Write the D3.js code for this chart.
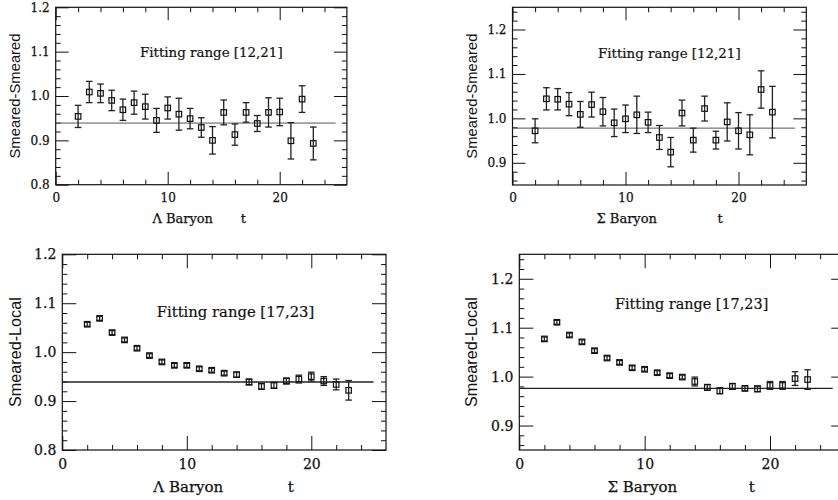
<!DOCTYPE html>
<html lang="en">
  <head>
    <meta charset="UTF-8" />
    <title>Effective mass ratios</title>
    <script src="https://d3js.org/d3.v7.min.js"></script>
    <style>
      body { margin: 0; background: #fff; }
    </style>
  </head>

  <body>
    <svg width="838" height="500"></svg>
    <script>
      // time slices
      const tValues = d3.range(2, 24);

      // Lambda, smeared-smeared
      const lambdaSS = [0.954, 1.009, 1.006, 0.990, 0.969, 0.985, 0.976, 0.945, 0.973, 0.959, 0.949,
                        0.929, 0.900, 0.963, 0.913, 0.963, 0.938, 0.963, 0.964, 0.899, 0.993, 0.893];
      const lambdaSSErr = [0.025, 0.024, 0.021, 0.023, 0.024, 0.026, 0.028, 0.027, 0.025, 0.036, 0.023,
                           0.022, 0.031, 0.028, 0.024, 0.022, 0.018, 0.033, 0.031, 0.041, 0.030, 0.037];
      // Sigma, smeared-smeared
      const sigmaSS = [0.972, 1.044, 1.043, 1.032, 1.009, 1.031, 1.015, 0.990, 0.999, 1.008, 0.991,
                       0.957, 0.924, 1.012, 0.951, 1.022, 0.951, 0.992, 0.972, 0.963, 1.065, 1.014];
      const sigmaSSErr = [0.027, 0.025, 0.024, 0.026, 0.029, 0.028, 0.032, 0.031, 0.031, 0.042, 0.023,
                          0.027, 0.033, 0.029, 0.027, 0.028, 0.020, 0.043, 0.041, 0.045, 0.042, 0.058];
      // Lambda, smeared-local
      const lambdaSL = [1.057, 1.069, 1.040, 1.025, 1.008, 0.993, 0.980, 0.973, 0.973, 0.966, 0.963,
                        0.957, 0.954, 0.939, 0.930, 0.932, 0.941, 0.945, 0.950, 0.941, 0.934, 0.922];
      const lambdaSLErr = [0.004, 0.004, 0.004, 0.004, 0.004, 0.004, 0.004, 0.004, 0.004, 0.004, 0.004,
                           0.004, 0.005, 0.006, 0.006, 0.006, 0.006, 0.008, 0.009, 0.009, 0.011, 0.020];
      // Sigma, smeared-local
      const sigmaSL = [1.077, 1.111, 1.085, 1.071, 1.053, 1.038, 1.029, 1.018, 1.015, 1.008, 1.002,
                       0.999, 0.990, 0.978, 0.971, 0.980, 0.976, 0.975, 0.982, 0.982, 0.996, 0.994];
      const sigmaSLErr = [0.004, 0.004, 0.004, 0.004, 0.004, 0.004, 0.004, 0.004, 0.004, 0.004, 0.004,
                          0.004, 0.009, 0.006, 0.006, 0.006, 0.005, 0.006, 0.008, 0.008, 0.014, 0.020];

      // fitted plateaus
      const fitValues = [0.939, 0.978, 0.939, 0.976];
      const fitLabels = ["Fitting range [12,21]", "Fitting range [12,21]",
                         "Fitting range [17,23]", "Fitting range [17,23]"];
      const yTitles = ["Smeared-Smeared", "Smeared-Smeared", "Smeared-Local", "Smeared-Local"];
      const xTitles = ["\u039b Baryon", "\u03a3 Baryon", "\u039b Baryon", "\u03a3 Baryon"];

      const panels = [
        { vals: lambdaSS, errs: lambdaSSErr, x0: 55.7, x1: 346.9, y0: 7.3, y1: 184.7, yd: [0.8, 1.2],
          fs: 12, ts: 14.8, ls: 13.4, lx: 140, ly: 52, ytx: 15, bx: 182.7, tx: 243.3, xly: 202.5, xty: 218.5 },
        { vals: sigmaSS, errs: sigmaSSErr, x0: 512.5, x1: 806.3, y0: 7.3, y1: 185, yd: [0.85, 1.25],
          fs: 12, ts: 14.8, ls: 13.4, lx: 598, ly: 53, ytx: 471.7, bx: 626.7, tx: 720, xly: 202.5, xty: 218.5 },
        { vals: lambdaSL, errs: lambdaSLErr, x0: 62.3, x1: 386, y0: 254.3, y1: 450, yd: [0.8, 1.2],
          fs: 14, ts: 16.2, ls: 14.8, lx: 156.7, ly: 312, ytx: 15, bx: 188.3, tx: 290.7, xly: 469.5, xty: 487 },
        { vals: sigmaSL, errs: sigmaSLErr, x0: 519.3, x1: 845.2, y0: 254.3, y1: 450, yd: [0.85, 1.25],
          fs: 14, ts: 16.2, ls: 14.4, lx: 615, ly: 303.5, ytx: 471.7, bx: 642.3, tx: 751.7, xly: 469.5, xty: 487 }
      ];

      const svg = d3.select("svg");
      const serif = "'DejaVu Serif', serif";
      const sans = "'Liberation Sans', Arial, sans-serif";
      const ink = "#111";

      panels.forEach((p, i) => {
        const w = p.x1 - p.x0;
        const h = p.y1 - p.y0;
        const g = svg.append("g").attr("transform", "translate(" + p.x0 + "," + p.y0 + ")");

        const x = d3.scaleLinear().domain([0, 26]).range([0, w]);
        const y = d3.scaleLinear().domain(p.yd).range([h, 0]);

        const xMajor = [0, 10, 20];
        const xMinor = d3.range(2, 26, 2).filter((d) => d % 10 !== 0);
        const yMajor = d3.range(Math.round(p.yd[0] * 10), Math.round(p.yd[1] * 10) + 1).map((d) => d / 10)
          .filter((d) => d >= p.yd[0] && d <= p.yd[1]);
        const yMinor = d3.range(Math.ceil(p.yd[0] * 50), Math.floor(p.yd[1] * 50) + 1).map((d) => d / 50)
          .filter((d) => Math.abs(d * 10 - Math.round(d * 10)) > 1e-6);

        const big = i < 2 ? 13 : 14;
        const small = 5;

        function styleAxis(sel) {
          sel.select(".domain").remove();
          sel.selectAll("line").attr("stroke", ink).attr("stroke-width", 1);
          sel.selectAll("text")
            .attr("font-family", serif)
            .attr("font-size", p.fs)
            .attr("fill", ink)
            .attr("stroke", ink)
            .attr("stroke-width", 0.25);
        }

        // left + bottom with labels
        g.append("g")
          .call(d3.axisLeft(y).tickValues(yMajor).tickSize(-big).tickPadding(6).tickFormat(d3.format(".1f")))
          .call(styleAxis);
        g.append("g").call(d3.axisLeft(y).tickValues(yMinor).tickSize(-small).tickFormat("")).call(styleAxis);
        g.append("g")
          .attr("transform", "translate(0," + h + ")")
          .call(d3.axisBottom(x).tickValues(xMajor).tickSize(-big).tickPadding(p.xly - p.y1 - p.fs * 0.72).tickFormat(d3.format("d")))
          .call(styleAxis);
        g.append("g").attr("transform", "translate(0," + h + ")")
          .call(d3.axisBottom(x).tickValues(xMinor).tickSize(-small).tickFormat("")).call(styleAxis);
        // right + top, ticks only
        g.append("g").attr("transform", "translate(" + w + ",0)")
          .call(d3.axisRight(y).tickValues(yMajor).tickSize(-big).tickFormat("")).call(styleAxis);
        g.append("g").attr("transform", "translate(" + w + ",0)")
          .call(d3.axisRight(y).tickValues(yMinor).tickSize(-small).tickFormat("")).call(styleAxis);
        g.append("g").call(d3.axisTop(x).tickValues(xMajor).tickSize(-big).tickFormat("")).call(styleAxis);
        g.append("g").call(d3.axisTop(x).tickValues(xMinor).tickSize(-small).tickFormat("")).call(styleAxis);

        g.append("rect")
          .attr("width", w)
          .attr("height", h)
          .attr("fill", "none")
          .attr("stroke", ink)
          .attr("stroke-width", 1.2);

        // plateau fit
        g.append("line")
          .attr("x1", x(0))
          .attr("x2", x(25))
          .attr("y1", y(fitValues[i]))
          .attr("y2", y(fitValues[i]))
          .attr("stroke", i < 2 ? "#555" : "#222")
          .attr("stroke-width", i < 2 ? 1 : 1.3);

        const pts = tValues.map((t, k) => ({ t: t, v: p.vals[k], e: p.errs[k] }));
        const cap = 3.3;
        const bars = g.append("g").attr("stroke", "#222").attr("stroke-width", 1.3).attr("fill", "none");
        pts.forEach((d) => {
          const cx = x(d.t);
          bars.append("line").attr("x1", cx).attr("x2", cx).attr("y1", y(d.v - d.e)).attr("y2", y(d.v + d.e));
          bars.append("line").attr("x1", cx - cap).attr("x2", cx + cap).attr("y1", y(d.v - d.e)).attr("y2", y(d.v - d.e));
          bars.append("line").attr("x1", cx - cap).attr("x2", cx + cap).attr("y1", y(d.v + d.e)).attr("y2", y(d.v + d.e));
        });

        const sz = 5.5;
        g.selectAll("rect.pt")
          .data(pts)
          .join("rect")
          .attr("class", "pt")
          .attr("x", (d) => x(d.t) - sz / 2)
          .attr("y", (d) => y(d.v) - sz / 2)
          .attr("width", sz)
          .attr("height", sz)
          .attr("fill", "none")
          .attr("stroke", ink)
          .attr("stroke-width", 1.2);

        // annotation
        svg.append("text")
          .attr("x", p.lx)
          .attr("y", p.ly)
          .attr("dy", "0.35em")
          .attr("font-family", serif)
          .attr("font-size", p.ls)
          .attr("fill", ink)
          .attr("stroke", ink)
          .attr("stroke-width", 0.2)
          .text(fitLabels[i]);

        // axis titles
        svg.append("text")
          .attr("transform", "translate(" + p.ytx + "," + (p.y0 + h / 2) + ") rotate(-90)")
          .attr("text-anchor", "middle")
          .attr("dy", "0.35em")
          .attr("font-family", sans)
          .attr("font-size", p.ts)
          .attr("fill", ink)
          .text(yTitles[i]);

        [[xTitles[i], p.bx], ["t", p.tx]].forEach(([label, cx]) => {
          svg.append("text")
            .attr("x", cx)
            .attr("y", p.xty)
            .attr("dy", "0.35em")
            .attr("text-anchor", "middle")
            .attr("font-family", serif)
            .attr("font-size", p.fs + 1)
            .attr("fill", ink)
            .attr("stroke", ink)
            .attr("stroke-width", 0.25)
            .text(label);
        });
      });
    </script>
  </body>
</html>
